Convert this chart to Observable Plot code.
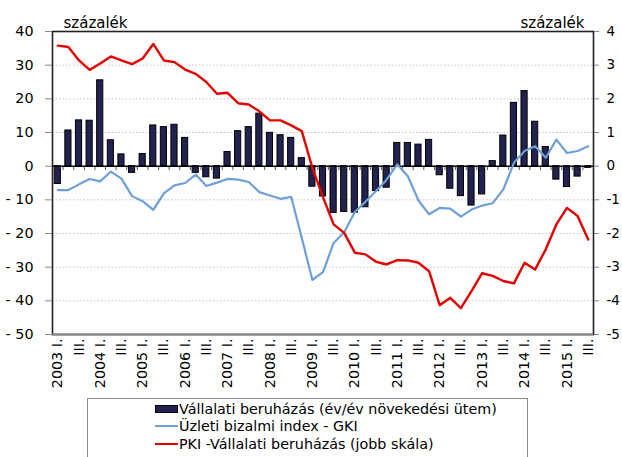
<!DOCTYPE html>
<html>
<head>
<meta charset="utf-8">
<script src="https://cdn.jsdelivr.net/npm/d3@7"></script>
<script src="https://cdn.jsdelivr.net/npm/@observablehq/plot@0.6"></script>
<style>
  html, body { margin: 0; padding: 0; background: #fff; }
  #wrap { position: relative; width: 622px; height: 457px; overflow: hidden; font-family: "DejaVu Sans", sans-serif; color: #000; }
  #chart { position: absolute; left: 0; top: 0; }
  #legend { position: absolute; left: 87px; top: 398px; width: 439px; height: 70px; border: 1px solid #8a8a8a; background: #fff; font-size: 14.3px; }
  .row { position: absolute; left: 67px; height: 17px; display: flex; align-items: center; white-space: nowrap; }
  .sw-bar { width: 21px; height: 6px; background: #22224f; border: 1px solid #000; margin-right: 1px; }
  .sw-line { width: 23px; height: 2px; margin-right: 1px; }
</style>
</head>
<body>
<div id="wrap">
  <div id="chart"></div>
  <div id="legend">
    <div class="row" style="top:1px"><div class="sw-bar"></div><span>Vállalati beruházás (év/év növekedési ütem)</span></div>
    <div class="row" style="top:18px"><div class="sw-line" style="background:#6f9fd8"></div><span>Üzleti bizalmi index - GKI</span></div>
    <div class="row" style="top:36px"><div class="sw-line" style="background:#e30000"></div><span>PKI -Vállalati beruházás (jobb skála)</span></div>
  </div>
</div>
<script>
// Quarters 2003 I. – 2015 III.
const years = d3.range(2003, 2016);
const romans = ["I.", "II.", "III.", "IV."];
const quarters = years.flatMap(y => romans.map(r => `${y} ${r}`)).slice(0, 51);

// Vállalati beruházás (év/év növekedési ütem), %
const investment = [-5.3, 10.6, 13.6, 13.5, 25.5, 7.7, 3.5, -2.0, 3.6, 12.1,
  11.6, 12.3, 8.4, -2.0, -3.3, -3.7, 4.2, 10.4, 11.6, 15.6,
  9.9, 9.2, 8.4, 2.4, -6.1, -9.0, -13.9, -13.6, -13.8, -12.2,
  -7.4, -6.4, 6.9, 6.9, 6.4, 7.8, -2.7, -6.7, -8.9, -11.7,
  -8.4, 1.5, 9.1, 18.8, 22.3, 13.2, 5.7, -4.0, -6.2, -3.1, -0.5];

// Üzleti bizalmi index - GKI
const gki = [-7.1, -7.1, -5.4, -3.8, -4.5, -1.6, -3.7, -8.9, -10.4, -13.0,
  -8.1, -5.7, -5.0, -2.5, -5.9, -4.9, -3.8, -4.0, -4.7, -7.7,
  -8.7, -9.7, -9.1, -21.3, -33.8, -31.5, -22.8, -19.6, -13.6, -10.6,
  -7.4, -4.0, 0.5, -3.0, -10.2, -14.3, -12.4, -12.6, -15.0, -12.9,
  -11.7, -11.0, -6.9, 1.0, 4.5, 5.9, 2.5, 7.9, 3.9, 4.5, 5.9];

// PKI - Vállalati beruházás (jobb skála)
const pki = [3.58, 3.54, 3.14, 2.86, 3.05, 3.26, 3.14, 3.03, 3.2, 3.63,
  3.14, 3.09, 2.87, 2.74, 2.5, 2.15, 2.18, 1.87, 1.83, 1.63,
  1.36, 1.36, 1.21, 1.04, -0.05, -0.92, -1.73, -1.98, -2.57, -2.62,
  -2.84, -2.92, -2.79, -2.80, -2.87, -3.12, -4.13, -3.91, -4.22, -3.71,
  -3.18, -3.26, -3.41, -3.48, -2.87, -3.07, -2.47, -1.73, -1.24, -1.48, -2.18];

const leftTicks = [40, 30, 20, 10, 0, -10, -20, -30, -40, -50];
const gridTicks = [30, 20, 10, -10, -20, -30, -40];
const rightScale = 10; // right axis value * 10 = left axis value
const xTicks = quarters.filter((q, i) => i % 2 === 0);

const rows = quarters.map((q, i) => ({q, inv: investment[i], gki: gki[i], pki: pki[i]}));

const W = 622, H = 395, ML = 52, MR = 29, MT = 31, MB = 61;
const step = (W - ML - MR) / quarters.length;

const fmtLeft = d => d < 0 ? "- " + (-d) : String(d);
const fmtRight = d => { const v = Math.round(d / rightScale); return v < 0 ? "-" + (-v) : String(v); };
const fmtX = q => q.endsWith(" I.") ? q : q.split(" ")[1];

const chart = Plot.plot({
  width: W, height: H,
  marginLeft: ML, marginRight: MR, marginTop: MT, marginBottom: MB,
  style: {fontFamily: "DejaVu Sans, sans-serif", fontSize: "14.3px", color: "#000", background: "#fff"},
  x: {type: "band", domain: quarters, paddingInner: 0.42, paddingOuter: 0.21, label: null},
  y: {domain: [-50, 40], label: null},
  marks: [
    Plot.ruleY(gridTicks, {stroke: "#c4c4c4", strokeDasharray: "1.5,2", strokeWidth: 1}),
    Plot.barY(rows, {x: "q", y: "inv", fill: "#22224f", stroke: "#000", strokeWidth: 1}),
    Plot.ruleX(quarters, {x: d => d, y1: 0, y2: -1.3, dx: -step / 2, stroke: "#555", strokeWidth: 1}),
    Plot.ruleY([0], {stroke: "#000", strokeWidth: 1.5}),
    Plot.line(rows, {x: "q", y: "gki", stroke: "#6f9fd8", strokeWidth: 2.2}),
    Plot.line(rows, {x: "q", y: d => d.pki * rightScale, stroke: "#e30000", strokeWidth: 2.4}),
    Plot.frame({stroke: "#222", strokeWidth: 1.6}),
    Plot.ruleY([-50], {stroke: "#888", strokeWidth: 2}),
    Plot.axisY({anchor: "left", ticks: leftTicks, tickFormat: fmtLeft, tickSize: 7, tickPadding: 12, label: null, stroke: "#888"}),
    Plot.axisY({anchor: "right", ticks: leftTicks, tickFormat: fmtRight, tickSize: 5, tickPadding: 8, label: null, stroke: "#888", fontSize: 13.5}),
    Plot.axisX({ticks: xTicks, tickFormat: fmtX, tickRotate: -90, tickSize: 0, tickPadding: 4, label: null}),
    Plot.text(["százalék"], {frameAnchor: "top-left", dx: 11, dy: -14, textAnchor: "start", fontSize: 15}),
    Plot.text(["százalék"], {frameAnchor: "top-right", dx: -9, dy: -14, textAnchor: "end", fontSize: 15})
  ]
});
document.getElementById("chart").appendChild(chart);
</script>
</body>
</html>
